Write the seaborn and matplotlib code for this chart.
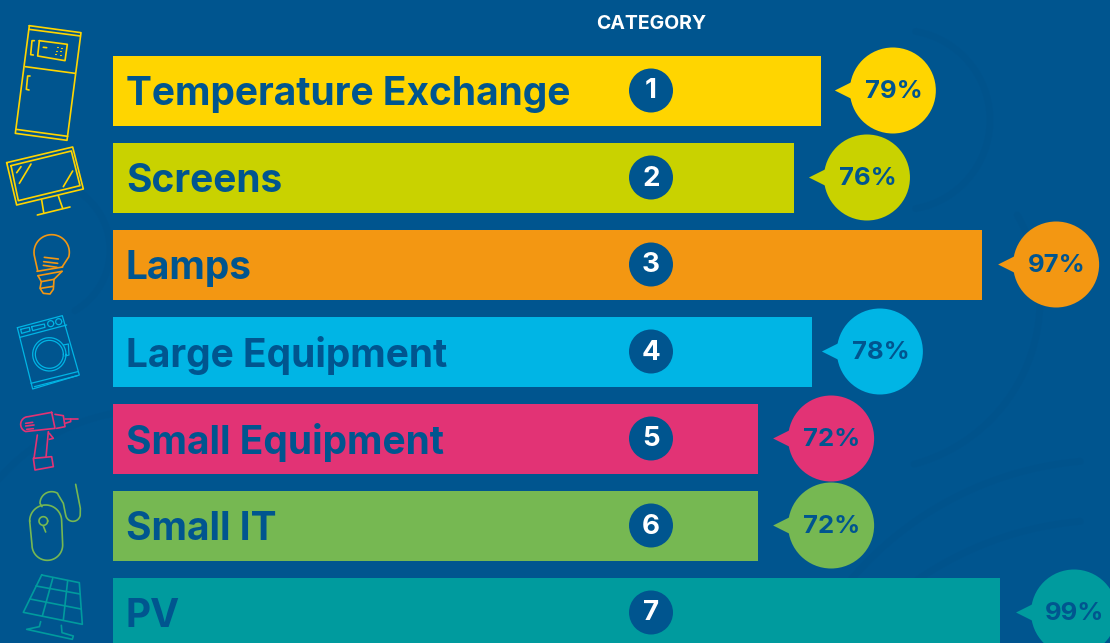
import numpy as np
import pandas as pd
import seaborn as sns
import matplotlib.pyplot as plt
from matplotlib.patches import Circle, Polygon

categories = ['Temperature Exchange', 'Screens', 'Lamps', 'Large Equipment',
              'Small Equipment', 'Small IT', 'PV']
numbers = ['1', '2', '3', '4', '5', '6', '7']
values = [79, 76, 97, 78, 72, 72, 99]
colors = ['#FFD500', '#C9D200', '#F39712', '#00B5E5', '#E23375', '#76B852', '#009B9E']

BG = '#00558F'
W, H = 1110, 643
PX_PER_PCT = 8.96
PITCH = 87
bubble_gap = [72, 73, 74, 68, 73, 73, 74]


def arc(cx, cy, r, a0, a1, n=40):
    t = np.radians(np.linspace(a0, a1, n))
    return list(zip(cx + r * np.cos(t), cy + r * np.sin(t)))


df = pd.DataFrame({'category': categories, 'value': values})

sns.set_theme(style='white')
plt.rcParams['font.family'] = ['Inter', 'DejaVu Sans']

fig = plt.figure(figsize=(W / 100, H / 100), dpi=100, facecolor=BG)

# faint darker curves of the backdrop
back = fig.add_axes([0, 0, 1, 1], facecolor=BG)
back.set_xlim(0, W)
back.set_ylim(H, 0)
back.axis('off')
for pts in [arc(870, 300, 170, -30, 75), arc(1110, 800, 340, 195, 265),
            arc(1110, 860, 340, 195, 265), arc(900, 120, 90, -80, 80),
            arc(150, 610, 200, 220, 300), arc(40, 250, 70, -60, 60)]:
    back.plot(*zip(*pts), color='#004F86', lw=5, alpha=0.25)

ax = fig.add_axes([0, 0, 1, 1], facecolor='none')
sns.barplot(data=df, x='value', y='category', hue='category', palette=colors,
            legend=False, width=70 / PITCH, saturation=1, linewidth=0, ax=ax)
ax.set_xlim(-113 / PX_PER_PCT, (W - 113) / PX_PER_PCT)
ax.set_ylim((H - 90.5) / PITCH, -90.5 / PITCH)
ax.axis('off')

# overlay in reference pixels, for the bubbles and icons
ov = fig.add_axes([0, 0, 1, 1], facecolor='none')
ov.set_xlim(0, W)
ov.set_ylim(H, 0)
ov.axis('off')

for i, (name, num, v, c) in enumerate(zip(categories, numbers, values, colors)):
    bx, by = ax.transData.transform((v, i))
    by = H - by
    ov.text(126, by + 4, name, color=BG, fontsize=28, fontweight='bold',
            va='center', ha='left')
    ov.add_patch(Circle((651, by), 22, fc=BG, ec='none'))
    ov.text(651, by + 1, num, color='white', fontsize=20, fontweight='bold',
            va='center', ha='center')
    cx = bx + bubble_gap[i]
    ov.add_patch(Circle((cx, by), 43, fc=c, ec='none'))
    ov.add_patch(Polygon([(cx - 58, by), (cx - 40, by - 9), (cx - 40, by + 9)], fc=c, ec='none'))
    ov.text(cx + 1, by + 1, f'{v}%', color=BG, fontsize=18.5, fontweight='bold',
            va='center', ha='center')

ov.text(651, 24, 'CATEGORY', color='white', fontsize=14, fontweight='bold',
        va='center', ha='center')


def line(pts, c, lw=1.2, dx=0, dy=0, s=1 / 3, close=False):
    # icon outlines are measured on the 3x zoom crops
    pts = list(pts)
    if close:
        pts = pts + [pts[0]]
    xs = [p[0] * s + dx for p in pts]
    ys = [p[1] * s + dy for p in pts]
    ov.plot(xs, ys, color=c, lw=lw, solid_capstyle='round', solid_joinstyle='round')


# fridge
c = colors[0]
line([(88, 77), (243, 98), (201, 421), (46, 400)], c, close=True)
line([(87, 88), (241, 108)], c)
line([(48, 388), (203, 409)], c)
line([(76, 200), (225, 220)], c)
line([(118, 122), (202, 133), (195, 182), (113, 168)], c, close=True)
line([(103, 122), (96, 122), (92, 164), (100, 165)], c)
line([(90, 228), (83, 228), (79, 268), (87, 270)], c)
line([(130, 142), (140, 143)], c)
for p in [(170, 141), (183, 143), (168, 152), (181, 154), (166, 163), (179, 165)]:
    line([p, (p[0] + 3, p[1])], c, lw=0.8)

# screen
line([(20, 488), (218, 441), (250, 567), (50, 615)], c, close=True)
line([(33, 497), (214, 453), (240, 557), (55, 602)], c, close=True)
line([(125, 600), (131, 637)], c)
line([(175, 588), (188, 625)], c)
line([(112, 645), (210, 621)], c)
line([(50, 518), (63, 500)], c)
line([(58, 550), (93, 492)], c)
line([(190, 560), (218, 513)], c)

# lamp
c = colors[2]
bulb = arc(155, 97, 53, 170, 375)
line([(113, 152)] + bulb + [(187, 140)], c, dy=220)
line([(111, 154), (188, 141)], c, dy=220)
line([(114, 167), (186, 154)], c, dy=220)
line([(114, 167), (124, 185), (120, 205), (130, 220), (150, 222), (160, 208), (162, 178), (186, 154)], c, dy=220)
line([(124, 185), (162, 178)], c, dy=220)
line([(122, 205), (160, 199)], c, dy=220)
line([(133, 112), (175, 117)], c, dy=220)
line([(131, 125), (173, 130)], c, dy=220)
line([(130, 136), (171, 142)], c, dy=220)

# washing machine
c = colors[3]
line([(52, 323), (187, 287), (238, 465), (98, 507)], c, lw=0.9, dy=220, close=True)
line([(60, 352), (200, 315)], c, lw=0.9, dy=220)
line([(93, 490), (233, 455)], c, lw=0.9, dy=220)
line([(103, 500), (232, 467)], c, lw=0.9, dy=220)
line([(62, 328), (88, 322), (90, 333), (65, 340)], c, lw=0.9, dy=220, close=True)
line([(95, 320), (133, 312), (135, 322), (98, 332)], c, lw=0.9, dy=220, close=True)
line(arc(152, 311, 9, 0, 360), c, lw=0.9, dy=220)
line(arc(176, 305, 9, 0, 360), c, lw=0.9, dy=220)
line(arc(148, 403, 50, 0, 360), c, lw=0.9, dy=220)
line(arc(148, 403, 42, 0, 360), c, lw=0.9, dy=220)
line([(190, 375), (205, 372), (207, 405), (195, 408)], c, lw=0.9, dy=220)

# drill, crop starts at (10, 405)
c = colors[4]
drill = dict(dx=10, dy=405)
line([(125, 22), (55, 35)] + arc(55, 58, 23, 270, 110, 15) + [(135, 70), (125, 22)], c, **drill)
line([(135, 28), (160, 32), (165, 65), (140, 70)], c, **drill)
line([(165, 42), (205, 42)], c, **drill)
line([(165, 55), (182, 50), (182, 42)], c, **drill)
line([(47, 55), (68, 52)], c, **drill)
line([(47, 63), (72, 60)], c, **drill)
line([(50, 73), (70, 71)], c, **drill)
line([(82, 90), (72, 160), (125, 155), (130, 185), (75, 195), (70, 160)], c, **drill)
line([(115, 80), (108, 157)], c, **drill)
line([(118, 85), (130, 100), (118, 103)], c, **drill)

# mouse
c = colors[5]
mouse = arc(137, 243, 48, 180, 360) + arc(142, 315, 46, 0, 180)
line(mouse, c, dy=440, close=True)
line(arc(130, 243, 13, 0, 360), c, dy=440)
line([(130, 258), (137, 276)], c, dy=440)
line([(126, 200)] + arc(155, 190, 35, 180, 300) + [(175, 165), (190, 190), (197, 225)]
     + arc(219, 222, 22, 170, 10, 20) + [(241, 205), (227, 133)], c, dy=440)

# solar panel
c = colors[6]
line([(125, 405), (238, 428), (247, 553), (70, 517)], c, dy=440, close=True)
line([(108, 438), (240, 462)], c, dy=440)
line([(90, 477), (243, 507)], c, dy=440)
line([(158, 416), (127, 528)], c, dy=440)
line([(203, 422), (190, 540)], c, dy=440)
line([(122, 545), (118, 560), (80, 568), (217, 598), (220, 588), (186, 578), (184, 556)], c, dy=440)

fig.savefig('out.png', dpi=100, facecolor=BG)
